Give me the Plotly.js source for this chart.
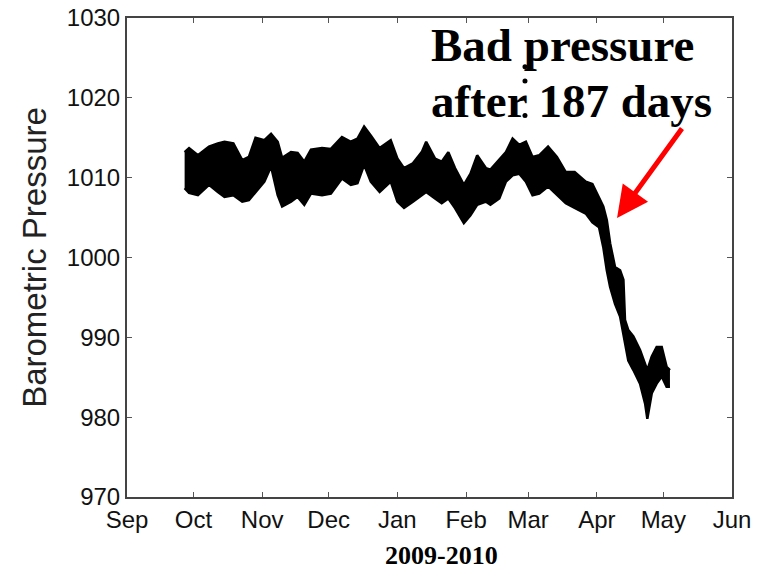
<!DOCTYPE html>
<html>
<head>
<meta charset="utf-8">
<script src="https://cdn.plot.ly/plotly-3.0.1.min.js"></script>
<style>html,body{margin:0;padding:0;background:#fff;}#chart{width:758px;height:571px;}</style>
</head>
<body>
<div id="chart"></div>
<script>
const dates = [
"2009-09-27","2009-09-29","2009-10-03","2009-10-08","2009-10-12","2009-10-15","2009-10-19","2009-10-23","2009-10-26","2009-10-29",
"2009-11-02","2009-11-05","2009-11-08","2009-11-10","2009-11-14","2009-11-17","2009-11-20","2009-11-23","2009-11-28",
"2009-12-02","2009-12-07","2009-12-11","2009-12-14","2009-12-17","2009-12-20","2009-12-24","2009-12-29",
"2010-01-01","2010-01-04","2010-01-08","2010-01-12","2010-01-14","2010-01-18","2010-01-21","2010-01-24","2010-01-27","2010-01-31",
"2010-02-03","2010-02-06","2010-02-10","2010-02-12","2010-02-16","2010-02-19","2010-02-22","2010-02-25","2010-02-28",
"2010-03-03","2010-03-06","2010-03-10","2010-03-14","2010-03-18","2010-03-22","2010-03-27","2010-03-30",
"2010-04-02","2010-04-03 22:00","2010-04-05 12:00","2010-04-07","2010-04-09 05:00","2010-04-11 12:00","2010-04-13","2010-04-13 17:00","2010-04-15 05:00","2010-04-17 12:00","2010-04-20 12:00","2010-04-22 19:00","2010-04-23 19:00","2010-04-25 19:00","2010-04-28","2010-04-30 07:00","2010-05-02 12:00","2010-05-04"
];
const upper = [
1013.2,1013.7,1012.8,1013.9,1014.3,1014.5,1014.3,1012.2,1012.6,1015.0,
1014.7,1015.5,1014.5,1012.5,1013.2,1013.1,1012.0,1013.5,1013.7,
1013.6,1015.1,1014.5,1014.9,1016.4,1015.3,1013.7,1014.7,
1012.4,1011.2,1011.8,1013.2,1014.5,1012.4,1012.0,1013.2,1011.2,1009.1,
1010.5,1012.8,1011.2,1011.0,1012.2,1013.2,1014.9,1014.1,1014.5,
1012.6,1012.8,1013.9,1012.6,1010.7,1010.7,1009.5,1009.2,
1007.6,1006.4,1004.7,1001.8,998.8,998.4,997.2,992.2,990.9,990.1,988.4,986.7,985.9,987.6,988.8,988.8,986.3,985.9
];
const lower = [
1008.7,1008.1,1007.8,1009.1,1008.2,1007.6,1007.8,1007.0,1007.2,1008.2,
1009.5,1011.4,1007.8,1006.4,1007.0,1007.6,1006.6,1008.0,1007.8,
1008.0,1009.9,1009.1,1009.3,1011.6,1009.5,1008.2,1009.5,
1007.0,1006.2,1007.0,1007.8,1008.2,1007.4,1006.8,1007.4,1006.2,1004.3,
1005.3,1006.6,1007.0,1006.6,1007.4,1009.5,1010.3,1010.5,1009.5,
1007.8,1008.0,1008.9,1007.8,1006.8,1006.2,1005.5,1004.4,
1003.8,1001.3,998.4,996.3,994.2,992.6,990.5,989.2,987.1,985.9,984.2,981.7,979.8,983.0,984.2,985.1,983.8,983.8
];
// isolated spikes near end of February
const spikeDates = ["2010-02-27 14:00","2010-02-27 14:00","2010-02-27 14:00"];
const spikeValues = [1023.9, 1022.1, 1017.8];

const yTicks = [970, 980, 990, 1000, 1010, 1020, 1030];
const annotationLines = ["Bad pressure", "after 187 days"];
const xLabel = "2009-2010";
const yLabel = "Barometric Pressure";

const traces = [
  {x: dates, y: lower, type: 'scatter', mode: 'lines', line: {color: '#000', width: 2.5}, hoverinfo: 'skip', showlegend: false},
  {x: dates, y: upper, type: 'scatter', mode: 'lines', fill: 'tonexty', fillcolor: '#000', line: {color: '#000', width: 2.5}, hoverinfo: 'skip', showlegend: false},
  {x: spikeDates, y: spikeValues, type: 'scatter', mode: 'markers', marker: {color: '#000', size: 5}, showlegend: false}
];

const tickFont = {family: 'Liberation Sans, Arial, sans-serif', size: 24, color: '#111'};
const axisCommon = {
  showline: true, linecolor: '#444', linewidth: 2, mirror: 'ticks',
  ticks: 'inside', ticklen: 5, tickwidth: 1, tickcolor: '#555',
  showgrid: false, zeroline: false, tickfont: tickFont
};

const layout = {
  width: 758, height: 571,
  margin: {l: 127, r: 26, t: 18, b: 74},
  paper_bgcolor: '#fff', plot_bgcolor: '#fff',
  showlegend: false,
  xaxis: Object.assign({}, axisCommon, {
    type: 'date', range: ['2009-09-01', '2010-06-01'],
    tick0: '2009-09-01', dtick: 'M1', tickformat: '%b'
  }),
  yaxis: Object.assign({}, axisCommon, {
    range: [970, 1030], tickvals: yTicks,
    title: {text: yLabel, font: {family: 'Liberation Sans, Arial, sans-serif', size: 33, color: '#222'}, standoff: 10}
  }),
  annotations: [
    {xref: 'paper', yref: 'paper', x: 0.499, y: 0.943, xanchor: 'left', yanchor: 'middle', showarrow: false,
     text: annotationLines[0], font: {family: 'Liberation Serif, Times New Roman, serif', size: 47, color: '#000', weight: 'bold'}},
    {xref: 'paper', yref: 'paper', x: 0.499, y: 0.826, xanchor: 'left', yanchor: 'middle', showarrow: false,
     text: annotationLines[1], font: {family: 'Liberation Serif, Times New Roman, serif', size: 47, color: '#000', weight: 'bold'}},
    {xref: 'paper', yref: 'paper', x: 0.81, y: 0.5825, showarrow: true, text: '',
     ax: 66, ay: -91, arrowcolor: '#ff0000', arrowwidth: 5, arrowhead: 2, arrowsize: 1.25},
    {xref: 'paper', yref: 'paper', x: 0.52, y: -0.123, xanchor: 'center', yanchor: 'middle', showarrow: false,
     text: '<b>' + xLabel + '</b>', font: {family: 'Liberation Serif, Times New Roman, serif', size: 26, color: '#000'}}
  ]
};

Plotly.newPlot('chart', traces, layout, {staticPlot: true, displayModeBar: false});
</script>
</body>
</html>
